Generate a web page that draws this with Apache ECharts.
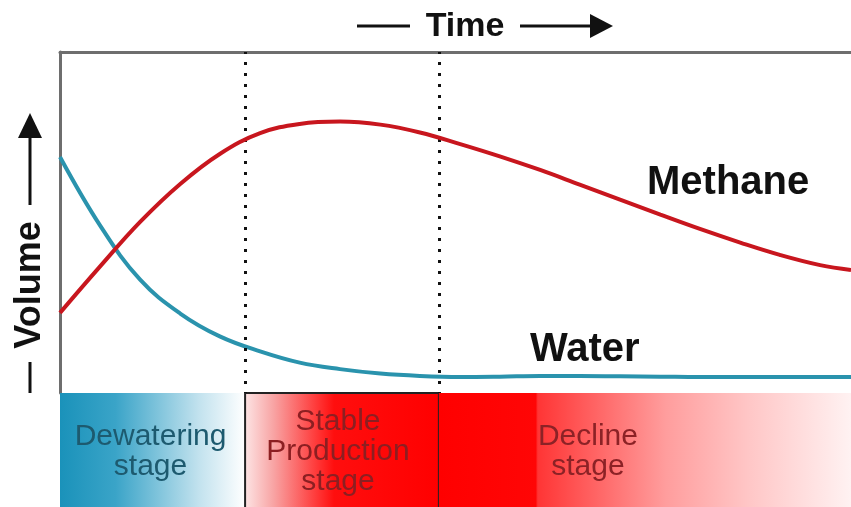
<!DOCTYPE html>
<html>
<head>
<meta charset="utf-8">
<script src="https://cdn.jsdelivr.net/npm/echarts@6/dist/echarts.min.js"></script>
<style>
html,body{margin:0;padding:0;background:#fff;}
#chart{width:851px;height:507px;}
</style>
</head>
<body>
<div id="chart"></div>
<script>
// ---- data (time 0..100, volume 0..100) ----
const timeX = [0, 5.1, 10.1, 15.2, 20.2, 25.3, 30.3, 35.4, 40.5, 45.5, 50.6, 55.6, 60.7, 65.7, 70.8, 75.9, 80.9, 86.0, 91.0, 96.1, 100];
const methaneY = [23.5, 37.2, 50.1, 61.3, 70.1, 76.2, 78.9, 79.6, 78.7, 76.4, 73.0, 69.4, 65.4, 61.1, 56.7, 52.3, 48.1, 44.1, 40.5, 37.5, 36.1];
const waterY = [69.2, 49.0, 33.3, 23.3, 16.6, 12.2, 8.9, 7.0, 5.7, 5.0, 4.7, 4.8, 5.0, 5.0, 4.9, 4.8, 4.7, 4.7, 4.7, 4.7, 4.7];
const stageNames = ['Dewatering\nstage', 'Stable\nProduction\nstage', 'Decline\nstage'];
const stageStart = [0, 23.4, 47.9];
const stageEnd = [23.4, 47.9, 100];
const seriesNames = ['Methane', 'Water'];
const axisNames = ['Time', 'Volume'];

// ---- styles ----
const FONT = "'Liberation Sans', Arial, sans-serif";
const stageStyles = [
  { stops: [[0,'#1a92ba'],[0.3,'#3aa4c8'],[0.75,'#c2e2ee'],[1,'#ffffff']], text: '#1d5a6f', stroke: null, shift: -2 },
  { stops: [[0,'#fde6e6'],[0.15,'#f8a4a4'],[0.38,'#ff3434'],[0.46,'#ff0e0e'],[1,'#ff0000']], text: '#8c1f22', stroke: '#222', shift: -4 },
  { stops: [[0,'#ff0000'],[0.235,'#ff0606'],[0.24,'#ff3535'],[0.55,'#ff9d9d'],[0.75,'#ffc6c6'],[1,'#fff2f2']], text: '#8c2226', stroke: null, shift: -57 }
];

const chart = echarts.init(document.getElementById('chart'), null, { renderer: 'canvas' });
const zip = (xs, ys) => xs.map((x, i) => [x, ys[i]]);

const option = {
  animation: false,
  backgroundColor: '#ffffff',
  grid: [
    { left: 60, right: 0, top: 52, height: 341 },
    { left: 60, right: 0, top: 393, bottom: 0 }
  ],
  xAxis: [
    { gridIndex: 0, type: 'value', min: 0, max: 100, position: 'top',
      axisLine: { show: true, onZero: false, lineStyle: { color: '#6e6e6e', width: 3 } },
      axisTick: { show: false }, axisLabel: { show: false }, splitLine: { show: false } },
    { gridIndex: 1, type: 'value', min: 0, max: 100, show: false }
  ],
  yAxis: [
    { gridIndex: 0, type: 'value', min: 0, max: 100,
      axisLine: { show: true, onZero: false, lineStyle: { color: '#6e6e6e', width: 3 } },
      axisTick: { show: false }, axisLabel: { show: false }, splitLine: { show: false } },
    { gridIndex: 1, type: 'value', min: 0, max: 1, show: false }
  ],
  series: [
    {
      type: 'custom', xAxisIndex: 1, yAxisIndex: 1, silent: true,
      data: stageNames.map((n, i) => [stageStart[i], stageEnd[i], i]),
      renderItem: function (params, api) {
        const i = api.value(2);
        const p0 = api.coord([api.value(0), 1]);
        const p1 = api.coord([api.value(1), 0]);
        const st = stageStyles[i];
        const w = p1[0] - p0[0], h = p1[1] - p0[1];
        const children = [{
          type: 'rect',
          shape: { x: p0[0], y: p0[1], width: w, height: h + 4 },
          style: {
            fill: new echarts.graphic.LinearGradient(0, 0, 1, 0, st.stops.map(s => ({ offset: s[0], color: s[1] }))),
            stroke: st.stroke || null, lineWidth: st.stroke ? 2 : 0
          }
        }, {
          type: 'text',
          style: {
            text: stageNames[i], x: p0[0] + w / 2 + st.shift, y: p0[1] + h / 2 + 2,
            align: 'center', verticalAlign: 'middle',
            fill: st.text, fontSize: 30, fontFamily: FONT, lineHeight: 30
          }
        }];
        return { type: 'group', children: children };
      }
    },
    {
      name: seriesNames[0], type: 'line', xAxisIndex: 0, yAxisIndex: 0,
      data: zip(timeX, methaneY), smooth: 0.4, showSymbol: false, symbol: 'none',
      lineStyle: { color: '#c8161e', width: 4 }, z: 5,
      markLine: {
        silent: true, symbol: 'none', label: { show: false },
        lineStyle: { color: '#111', width: 3, type: [3, 8], dashOffset: 2 },
        data: [{ xAxis: stageStart[1] }, { xAxis: stageStart[2] }]
      }
    },
    {
      name: seriesNames[1], type: 'line', xAxisIndex: 0, yAxisIndex: 0,
      data: zip(timeX, waterY), smooth: 0.4, showSymbol: false, symbol: 'none',
      lineStyle: { color: '#2a93ad', width: 4 }, z: 4
    }
  ],
  graphic: [
    // Time axis label with arrows
    { type: 'line', shape: { x1: 357, y1: 26, x2: 410, y2: 26 }, style: { stroke: '#111', lineWidth: 3 } },
    { type: 'line', shape: { x1: 520, y1: 26, x2: 596, y2: 26 }, style: { stroke: '#111', lineWidth: 3 } },
    { type: 'polygon', shape: { points: [[590, 14], [613, 26], [590, 38]] }, style: { fill: '#111' } },
    { type: 'text', x: 465, y: 27, style: { text: axisNames[0], align: 'center', verticalAlign: 'middle', fill: '#111', font: "bold 34px " + FONT } },
    // Volume axis label with arrows
    { type: 'line', shape: { x1: 30, y1: 362, x2: 30, y2: 393 }, style: { stroke: '#111', lineWidth: 3 } },
    { type: 'line', shape: { x1: 30, y1: 205, x2: 30, y2: 132 }, style: { stroke: '#111', lineWidth: 3 } },
    { type: 'polygon', shape: { points: [[18, 138], [30, 113], [42, 138]] }, style: { fill: '#111' } },
    { type: 'text', x: 30, y: 285, rotation: Math.PI / 2, style: { text: axisNames[1], align: 'center', verticalAlign: 'middle', fill: '#111', font: "bold 36px " + FONT } },
    // Series labels
    { type: 'text', x: 647, y: 183, style: { text: seriesNames[0], align: 'left', verticalAlign: 'middle', fill: '#111', font: "bold 40px " + FONT } },
    { type: 'text', x: 530, y: 350, style: { text: seriesNames[1], align: 'left', verticalAlign: 'middle', fill: '#111', font: "bold 40px " + FONT } }
  ]
};
chart.setOption(option);
</script>
</body>
</html>
